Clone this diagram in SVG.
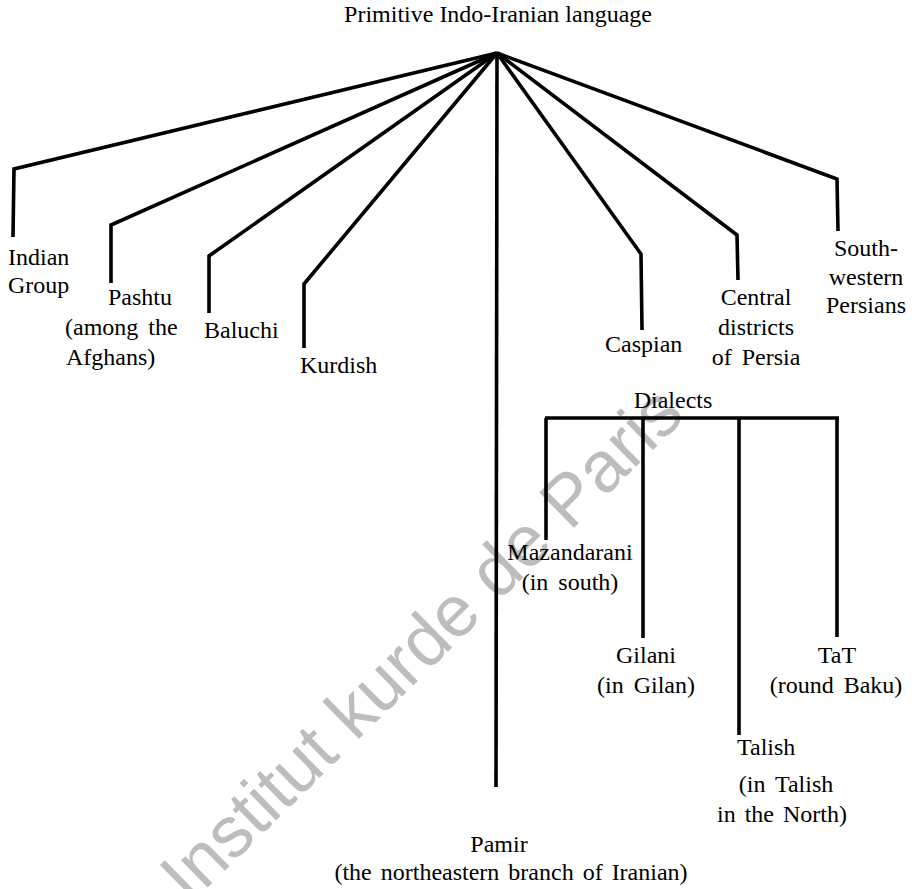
<svg xmlns="http://www.w3.org/2000/svg" width="915" height="889" viewBox="0 0 915 889">
<style>
.bg{fill:#ffffff}
.t{font-family:"Liberation Serif","Times New Roman",serif;font-size:24px;fill:#000}
.c{text-anchor:middle}
.wm{font-family:"Liberation Sans",Arial,sans-serif;font-size:72px;fill:#bdbdbd}
.ln{fill:none;stroke:#000;stroke-width:3.6;stroke-linejoin:miter;stroke-linecap:butt}
</style>
<rect class="bg" x="0" y="0" width="915" height="889"/>
<g id="watermark">
<text class="wm" transform="translate(190,905) rotate(-44.5)">Institut kurde de Paris</text>
</g>
<g id="connectors">
<polyline class="ln" points="497,53 14,169 13,237"/>
<polyline class="ln" points="497,53 111,225 111,283"/>
<polyline class="ln" points="497,53 209,256 209,313"/>
<polyline class="ln" points="497,53 304,284 304,348"/>
<polyline class="ln" points="497,53 496,787"/>
<polyline class="ln" points="497,53 641,254 642,330"/>
<polyline class="ln" points="497,53 737,235 738,280"/>
<polyline class="ln" points="497,53 837,179 838,231"/>
<polyline class="ln" points="545,418 839,418"/>
<polyline class="ln" points="546,418 546,540"/>
<polyline class="ln" points="643,418 643,638"/>
<polyline class="ln" points="739,418 739,735"/>
<polyline class="ln" points="837,418 837,637"/>
</g>
<g id="root"><text class="t c" x="498" y="22">Primitive Indo-Iranian language</text></g>
<g id="indian"><text class="t" x="8" y="265">Indian</text><text class="t" x="8" y="293">Group</text></g>
<g id="pashtu"><text class="t" x="108" y="305">Pashtu</text><text class="t" x="65" y="335" word-spacing="4">(among the</text><text class="t" x="66" y="365">Afghans)</text></g>
<g id="baluchi"><text class="t" x="204" y="338">Baluchi</text></g>
<g id="kurdish"><text class="t" x="300" y="373">Kurdish</text></g>
<g id="pamir"><text class="t c" x="499" y="852">Pamir</text><text class="t c" x="511" y="880" word-spacing="3">(the northeastern branch of Iranian)</text></g>
<g id="caspian"><text class="t" x="605" y="352">Caspian</text></g>
<g id="central"><text class="t c" x="756" y="305">Central</text><text class="t c" x="756" y="335">districts</text><text class="t c" x="756" y="365" word-spacing="4">of Persia</text></g>
<g id="southwestern"><text class="t c" x="866" y="256">South-</text><text class="t c" x="866" y="285">western</text><text class="t c" x="866" y="313">Persians</text></g>
<g id="dialects"><text class="t c" x="673" y="408">Dialects</text></g>
<g id="mazandarani"><text class="t c" x="570" y="560">Mazandarani</text><text class="t c" x="570" y="590" word-spacing="4">(in south)</text></g>
<g id="gilani"><text class="t c" x="646" y="663">Gilani</text><text class="t c" x="646" y="693" word-spacing="4">(in Gilan)</text></g>
<g id="tat"><text class="t c" x="837" y="663">TaT</text><text class="t c" x="836" y="693" word-spacing="4">(round Baku)</text></g>
<g id="talish"><text class="t" x="737" y="755">Talish</text><text class="t c" x="786" y="792" word-spacing="4">(in Talish</text><text class="t c" x="782" y="822" word-spacing="3">in the North)</text></g>
</svg>
